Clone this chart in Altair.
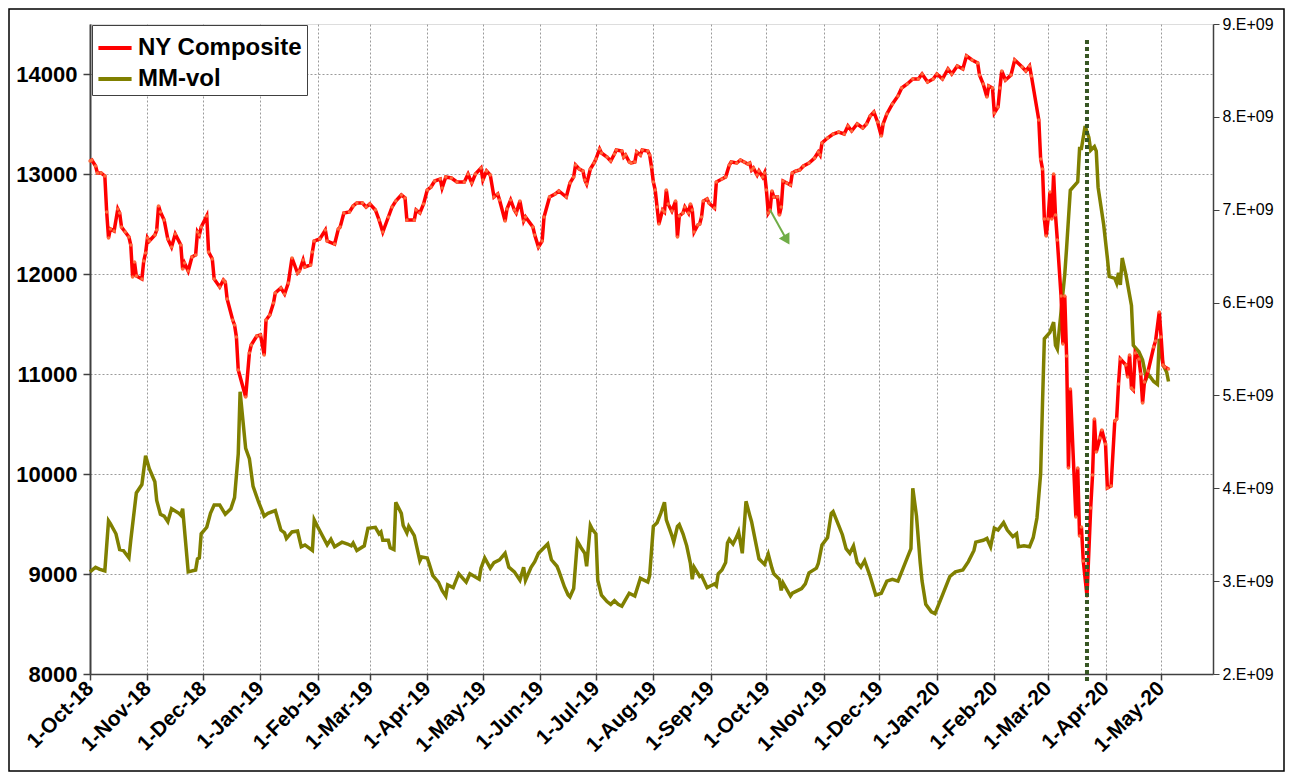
import altair as alt
import pandas as pd

START = "2018-10-01"

# NY Composite: trading days (days since 1-Oct-18) and index level
ny_days = [0,1,3,4,6,8,9,10,11,13,15,16,17,19,21,22,23,24,25,28,29,30,31,32,35,36,37,38,40,42,44,46,49,50,51,53,55,57,58,59,60,
           63,64,66,67,70,72,73,74,77,78,79,80,84,86,87,90,92,94,95,97,99,100,103,105,107,109,112,113,115,116,119,120,121,124,127,128,132,
           134,135,137,140,142,144,147,149,151,154,156,158,161,163,165,168,170,171,175,176,178,180,182,184,186,189,190,192,195,198,202,204,
           206,208,211,212,214,216,218,220,221,224,225,227,229,230,232,234,235,239,240,242,244,245,248,251,253,257,259,261,262,264,266,267,
           268,270,272,273,275,276,279,281,283,284,287,288,289,291,292,294,295,297,298,301,302,303,304,305,306,307,309,310,311,312,314,316,
           317,318,320,321,323,324,325,326,328,329,330,331,333,334,337,338,341,343,345,346,349,351,353,355,356,357,358,360,361,363,364,365,
           366,367,368,369,371,372,373,374,376,378,379,381,383,385,388,391,393,394,395,398,401,404,407,409,411,414,417,419,421,423,425,427,
           428,430,433,436,438,441,444,447,449,452,455,457,460,463,465,468,471,473,476,479,480,482,484,485,487,488,490,491,492,494,497,499,
           503,505,507,508,512,513,514,515,516,517,518,519,520,521,522,524,525,526,527,528,529,532,533,534,535,536,538,540,541,542,543,545,
           546,548,549,551,553,554,555,556,559,560,561,562,563,564,566,567,568,569,571,574,575,577,578,579,580,582]
ny_values = [13130,13140,13080,13010,13010,12980,12620,12360,12450,12430,12650,12610,12470,12420,12370,12290,11970,12120,11980,11950,12130,12210,12360,12330,12390,12440,12680,12620,12540,12350,12270,12400,12290,12050,12110,12030,12170,12190,12420,12390,12470,
             12580,12220,12150,11950,11870,11940,11920,11750,11540,11490,11370,11040,10770,11210,11290,11380,11390,11190,11540,11590,11710,11810,11860,11800,11910,12160,12010,12030,12140,12070,12090,12220,12330,12350,12440,12330,12300,
             12450,12470,12610,12620,12680,12710,12710,12670,12700,12640,12540,12420,12570,12670,12730,12790,12760,12540,12540,12640,12610,12700,12840,12870,12930,12950,12860,12970,12960,12920,12920,13000,
             12910,13000,13060,12940,13030,12990,12770,12800,12740,12530,12650,12740,12640,12610,12730,12530,12570,12470,12390,12270,12330,12570,12770,12800,12830,12770,12910,12970,13090,13050,13030,12940,
             12900,13050,13110,13150,13250,13210,13170,13130,13200,13240,13230,13170,13190,13120,13110,13120,13220,13190,13240,13230,13190,13070,12920,12840,12670,12500,12640,12620,12840,12700,12630,12730,
             12370,12580,12610,12670,12610,12700,12640,12420,12490,12500,12570,12730,12750,12710,12660,12920,12950,12970,13090,13120,13110,13140,13120,13100,13110,13040,13060,12990,13030,12970,13010,12840,
             12610,12640,12830,12770,12770,12590,12670,12930,12910,12890,13010,13030,13040,13080,13110,13160,13220,13190,13310,13360,13400,13420,13400,13480,13430,13500,13460,13500,13580,13620,13520,13380,
             13500,13600,13700,13780,13860,13900,13950,13950,14000,13920,13950,14000,13950,14050,14000,14080,14050,14180,14140,14110,13990,13900,13770,13880,13860,13610,13670,13860,14030,13940,13990,14140,
             14070,14030,14080,13980,13540,13150,13050,12550,12380,12550,12820,12550,13000,12590,12340,11780,11300,11780,11180,10060,10850,9570,10060,9380,9470,9130,8780,9660,9990,10550,10220,10360,
             10440,10300,9860,9880,10530,10550,10900,11150,11090,10970,11190,10860,10840,11210,11150,11000,10710,10920,11030,11270,11330,11620,11370,11090,11070,11050]

# MM-vol: days since 1-Oct-18 and volume in billions
vol_days = [0,3,5,8,10,11,14,16,18,21,22,25,28,30,32,35,36,38,40,42,44,48,49,50,53,57,58,59,60,63,65,67,70,73,76,78,80,81,84,86,88,91,94,96,
            100,103,105,106,109,112,114,116,120,121,123,128,130,132,136,139,141,142,144,148,150,154,156,157,158,161,162,164,165,168,169,171,172,
            175,178,179,182,183,185,188,190,192,193,196,199,203,205,210,211,213,216,218,221,224,226,229,232,234,235,238,240,242,247,249,252,253,
            256,258,259,261,263,265,267,268,270,271,273,274,276,279,281,283,285,287,289,291,294,297,301,302,304,306,308,310,311,314,315,317,318,
            320,322,324,325,326,329,330,333,335,337,338,339,341,343,344,345,347,349,350,352,354,356,357,359,361,364,366,368,369,372,373,374,378,
            379,384,386,387,388,392,393,395,398,400,401,404,406,408,410,412,414,416,418,421,424,427,430,433,436,438,441,443,444,446,448,449,451,
            454,456,458,460,463,464,467,471,474,477,478,482,484,486,488,490,493,495,498,500,501,504,507,509,511,513,514,515,518,520,521,522,524,
            526,527,529,533,534,535,537,539,540,542,543,544,547,549,550,553,554,555,556,557,559,562,563,566,568,570,571,574,576,577,579,581,582]
vol_values_bn = [3.10,3.15,3.13,3.11,3.65,3.62,3.51,3.34,3.33,3.25,3.44,3.95,4.04,4.35,4.21,4.07,3.87,3.72,3.70,3.64,3.78,3.73,3.71,3.78,3.10,3.12,3.24,3.25,3.51,3.58,3.73,3.82,3.82,3.72,3.78,3.90,4.37,5.04,4.43,4.32,4.02,3.85,3.70,3.73,
                 3.76,3.55,3.52,3.46,3.53,3.54,3.37,3.39,3.33,3.66,3.58,3.39,3.45,3.37,3.42,3.40,3.38,3.41,3.33,3.38,3.57,3.58,3.51,3.53,3.44,3.44,3.36,3.34,3.85,3.73,3.60,3.52,3.59,
                 3.49,3.22,3.26,3.25,3.19,3.06,2.99,2.90,2.84,2.96,2.93,3.08,2.99,3.08,3.02,3.14,3.25,3.14,3.20,3.23,3.30,3.15,3.10,3.01,3.15,3.01,3.15,3.21,3.30,3.40,3.23,3.16,3.11,
                 2.94,2.85,2.83,2.92,3.43,3.36,3.30,3.16,3.60,3.56,3.51,3.01,2.85,2.78,2.75,2.79,2.75,2.73,2.80,2.87,2.84,3.03,2.99,3.06,3.59,3.63,3.73,3.85,3.66,3.49,3.42,3.59,3.61,
                 3.51,3.38,3.19,3.02,3.15,3.05,3.06,2.93,2.95,2.97,2.95,3.08,3.12,3.20,3.41,3.45,3.40,3.48,3.53,3.30,3.86,3.71,3.64,3.44,3.24,3.18,3.29,3.14,3.08,3.02,2.90,2.98,2.84,
                 2.87,2.92,2.97,3.03,3.09,3.14,3.19,3.39,3.47,3.73,3.75,3.60,3.50,3.35,3.30,3.38,3.20,3.15,3.22,3.05,2.85,2.87,3.00,3.02,3.00,3.10,3.25,3.35,4.00,3.70,3.20,3.00,2.75,
                 2.67,2.65,2.75,2.85,3.00,3.05,3.10,3.12,3.21,3.33,3.42,3.44,3.46,3.37,3.57,3.55,3.63,3.55,3.48,3.51,3.37,3.38,3.37,3.47,3.68,4.16,4.92,5.61,5.68,5.79,5.54,5.50,5.90,
                 6.30,6.59,7.21,7.30,7.66,7.66,7.90,7.78,7.64,7.68,7.63,7.24,6.84,6.48,6.28,6.26,6.21,6.32,6.19,6.48,6.30,5.97,5.54,5.47,5.38,5.18,5.23,5.15,5.12,5.61,5.33,5.25,5.15]

series_names = ["NY Composite", "MM-vol"]
series_colors = ["#FF0000", "#808000"]

month_ticks = ["2018-10-01", "2018-11-01", "2018-12-01", "2019-01-01", "2019-02-01", "2019-03-01", "2019-04-01",
               "2019-05-01", "2019-06-01", "2019-07-01", "2019-08-01", "2019-09-01", "2019-10-01", "2019-11-01",
               "2019-12-01", "2020-01-01", "2020-02-01", "2020-03-01", "2020-04-01", "2020-05-01"]
left_ticks = [8000, 9000, 10000, 11000, 12000, 13000, 14000]
right_ticks = [2e9, 3e9, 4e9, 5e9, 6e9, 7e9, 8e9, 9e9]

# annotations: dotted marker line (date, top/bottom on left scale) and small green arrow
marker_day = [538]
marker_top = [14340]
marker_bottom = [7910]
arrow_days = [367, 376]
arrow_values = [12640, 12340]


def to_dates(days):
    return (pd.Timestamp(START) + pd.to_timedelta(days, unit="D")).strftime("%Y-%m-%d").tolist()


def dt(s):
    return alt.DateTime(year=int(s[:4]), month=int(s[5:7]), date=int(s[8:10]), utc=True)


ad = to_dates(arrow_days)
ny = pd.DataFrame({"date": to_dates(ny_days), "value": ny_values, "series": series_names[0]})
vol = pd.DataFrame({"date": to_dates(vol_days), "value": [v * 1e9 for v in vol_values_bn], "series": series_names[1]})
marker = pd.DataFrame({"date": to_dates(marker_day), "value": marker_top, "bottom": marker_bottom})
arrow = pd.DataFrame({"date": [ad[0]], "date2": [ad[1]], "value": [arrow_values[0]], "v2": [arrow_values[1]]})
head = pd.DataFrame({"date": [ad[1]], "value": [arrow_values[1]]})

FONT = "Liberation Sans"
AX = "#404040"
GRID = "#9a9a9a"

x_scale = alt.Scale(type="utc", domain=[dt("2018-10-01"), dt("2020-05-29")])
x_axis = alt.Axis(values=[dt(s) for s in month_ticks], format="%-d-%b-%y", labelAngle=-45,
                  labelAlign="right", labelBaseline="middle", labelFont=FONT, labelFontSize=21,
                  labelFontWeight="bold", labelColor="black", labelPadding=5, labelOverlap=False,
                  tickSize=6, tickColor=AX, domainColor=AX, domainWidth=1.5, tickWidth=1.5,
                  grid=True, gridColor=GRID, gridDash=[2, 2], gridWidth=1, title=None)


def X():
    return alt.X("date:T", scale=x_scale, axis=x_axis)


yl_scale = alt.Scale(domain=[8000, 14500], nice=False, zero=False)
yr_scale = alt.Scale(domain=[2e9, 9e9], nice=False, zero=False)
yl_axis = alt.Axis(orient="left", values=left_ticks, format="d", labelFont=FONT, labelFontSize=22,
                   labelFontWeight="bold", labelColor="black", labelPadding=6, tickSize=7,
                   tickColor=AX, tickWidth=1.5, domainColor=AX, domainWidth=2, grid=True,
                   gridColor=GRID, gridDash=[2, 2], gridWidth=1, title=None)


def YL():
    return alt.Y("value:Q", scale=yl_scale, axis=yl_axis)


color = alt.Color("series:N", scale=alt.Scale(domain=series_names, range=series_colors),
                  legend=alt.Legend(title=None, orient="none", legendX=2, legendY=1, direction="vertical",
                                    symbolType="stroke", symbolStrokeWidth=4, symbolSize=1100,
                                    labelFont=FONT, labelFontSize=24, labelFontWeight="bold",
                                    labelColor="black", padding=4, rowPadding=0, labelOffset=4,
                                    fillColor="white", strokeColor=AX, labelLimit=400))

vol_line = alt.Chart(vol).mark_line(strokeWidth=3.5).encode(
    x=X(),
    y=alt.Y("value:Q", scale=yr_scale,
            axis=alt.Axis(orient="right", values=right_ticks,
                          labelExpr="format(datum.value/1e9,'d') + '.E+09'",
                          labelFont=FONT, labelFontSize=16, labelColor="black", labelPadding=3,
                          tickSize=6, tickColor=AX, domainColor=AX, domainWidth=1.5, grid=False, title=None)),
    color=color,
)

ny_line = alt.Chart(ny).mark_line(strokeWidth=3.5).encode(x=X(), y=YL(), color=color)

ny_pts = alt.Chart(ny).mark_point(filled=True, size=12, color="#FF6A3D", opacity=1).encode(x=X(), y=YL())

marker_rule = alt.Chart(marker).mark_rule(color="#375623", strokeWidth=4, strokeDash=[4, 3]).encode(
    x=X(), y=YL(), y2="bottom:Q")

arrow_rule = alt.Chart(arrow).mark_rule(color="#70AD47", strokeWidth=2).encode(
    x=X(), x2="date2:T", y=YL(), y2="v2:Q")

arrow_head = alt.Chart(head).mark_point(shape="triangle-up", angle=150, filled=True, size=150,
                                        color="#70AD47", opacity=1).encode(x=X(), y=YL())

left_group = alt.layer(ny_line, ny_pts, marker_rule, arrow_rule, arrow_head)

frame = alt.Chart(pd.DataFrame({"k": [0]})).mark_rect(filled=False, stroke="black", strokeWidth=1.5).encode(
    x=alt.value(-81), x2=alt.value(1194), y=alt.value(-15), y2=alt.value(747))

chart = alt.layer(frame, vol_line, left_group).resolve_scale(y="independent").properties(
    width=1123, height=650,
    padding={"left": 82, "top": 16, "right": 72, "bottom": 98},
    autosize=alt.AutoSizeParams(type="none"),
).configure_view(stroke="#595959", strokeWidth=1).configure(background="white")

chart.save("out.html", embed_options={"renderer": "svg", "actions": False})
